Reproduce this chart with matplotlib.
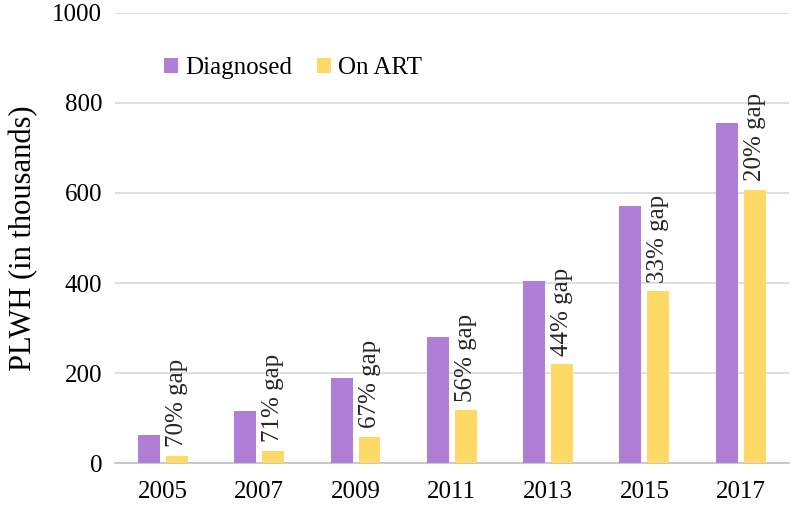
import numpy as np
import matplotlib.pyplot as plt

# PLWH diagnosed vs on ART (thousands)
years = ['2005', '2007', '2009', '2011', '2013', '2015', '2017']
diagnosed = [64, 116, 190, 280, 404, 572, 756]
on_art = [17, 28, 59, 118, 220, 382, 607]
gap_labels = ['70% gap', '71% gap', '67% gap', '56% gap', '44% gap', '33% gap', '20% gap']

plt.rcParams['font.family'] = ['Liberation Serif', 'DejaVu Serif']

fig = plt.figure(figsize=(7.92, 5.07), dpi=100)
ax = fig.add_axes([0.145, 0.086, 0.851, 0.889])

x = np.arange(len(years))
w = 0.228
off = 0.145
ax.bar(x - off, diagnosed, w, color='#B07ED6', label='Diagnosed', zorder=3)
ax.bar(x + off, on_art, w, color='#FFD966', label='On ART', zorder=3)

# rotated gap labels above the On ART bars
for xi, v, lab in zip(x, on_art, gap_labels):
    ax.annotate(lab, (xi + off, v), xytext=(0, 6), textcoords='offset points',
                rotation=90, ha='center', va='bottom', fontsize=18, color='#262626')

ax.set_xlim(-0.5, len(years) - 0.5)
ax.set_ylim(0, 1000)
ax.set_yticks(np.arange(0, 1001, 200))
ax.set_xticks(x)
ax.set_xticklabels(years)
ax.set_ylabel('PLWH (in thousands)', fontsize=22, labelpad=10)

ax.grid(axis='y', color='#d9d9d9', linewidth=1.2, zorder=0)
for s in ['top', 'right', 'left']:
    ax.spines[s].set_visible(False)
ax.spines['bottom'].set_color('#bfbfbf')
ax.spines['bottom'].set_linewidth(1.2)
ax.tick_params(axis='both', length=0, labelsize=18, colors='black')
ax.tick_params(axis='y', pad=9)
ax.tick_params(axis='x', pad=13)

ax.legend(loc='center left', bbox_to_anchor=(164 / 792, 1 - 68 / 507),
          bbox_transform=fig.transFigure, ncol=2, frameon=False, fontsize=18,
          handlelength=0.55, handleheight=0.55, handletextpad=0.3,
          columnspacing=1.0, borderaxespad=0, borderpad=0)

fig.savefig('out.png', dpi=100)
